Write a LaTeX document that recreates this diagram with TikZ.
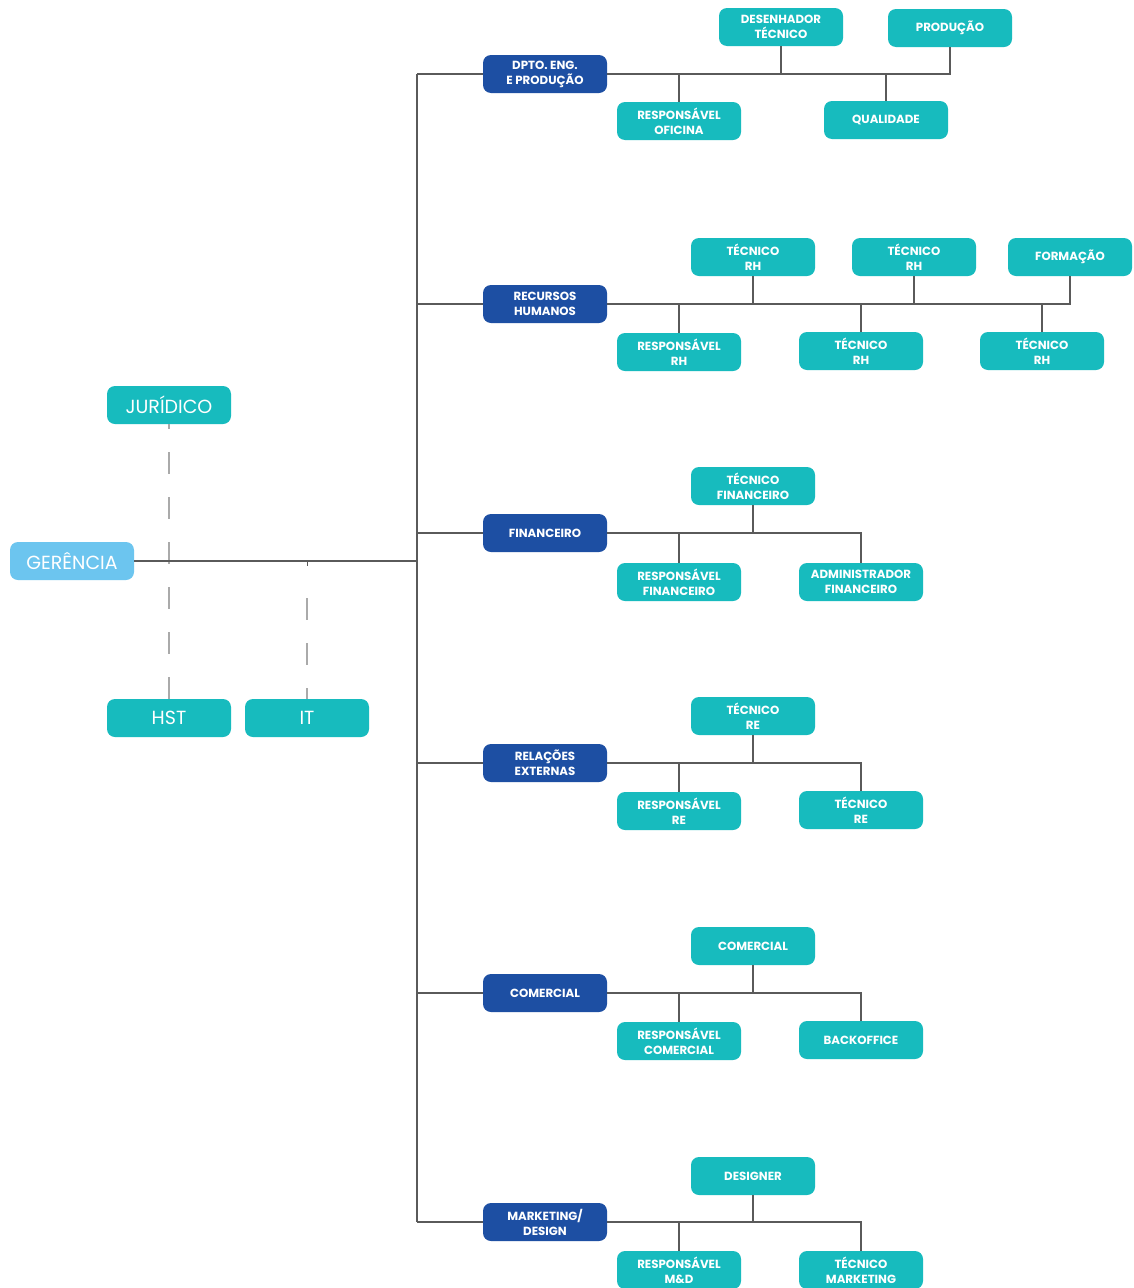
\documentclass[tikz,border=0pt]{standalone}
\usepackage{fontspec}
\setmainfont{Poppins}
\definecolor{tealbox}{HTML}{17BBBE}
\definecolor{deptblue}{HTML}{1D4FA3}
\definecolor{gerblue}{HTML}{6CC5EF}
\definecolor{linegray}{HTML}{5A5A5A}
\definecolor{dashgray}{HTML}{AAAAAA}
\tikzset{
  box/.style={rounded corners=8pt, minimum width=124pt, minimum height=38pt, text=white, align=center, inner sep=0pt},
  smalltxt/.style={font=\bfseries\fontsize{11.8}{15}\selectfont},
  child/.style={box, fill=tealbox, smalltxt},
  dept/.style={box, fill=deptblue, smalltxt},
  bigchild/.style={box, fill=tealbox, font=\fontsize{19}{22}\selectfont},
  conn/.style={draw=linegray, line width=1.1pt},
  dconn/.style={draw=dashgray, line width=1.1pt, dash pattern=on 22pt off 23pt}
}
\begin{document}
\begin{tikzpicture}[x=1pt,y=-1pt]
\useasboundingbox (0,0) rectangle (1133,1288);
\fill[white] (0,0) rectangle (1133,1288);

% left part
\node[box, fill=gerblue, font=\fontsize{19}{22}\selectfont] (ger) at (72,561) {GERÊNCIA};
\node[bigchild] (jur) at (169,405) {JURÍDICO};
\node[bigchild] (hst) at (169,718) {HST};
\node[bigchild] (it) at (307,718) {IT};
\coordinate (trunktop) at (417,74);
\coordinate (trunkbot) at (417,1222);
\coordinate (itjoin) at (307,561);
\coordinate (itdash) at (307,598);

% departments
\node[dept] (d1) at (545,74) {DPTO. ENG.\\E PRODUÇÃO};
\node[dept] (d2) at (545,304) {RECURSOS\\HUMANOS};
\node[dept] (d3) at (545,533) {FINANCEIRO};
\node[dept] (d4) at (545,763) {RELAÇÕES\\EXTERNAS};
\node[dept] (d5) at (545,993) {COMERCIAL};
\node[dept] (d6) at (545,1222) {MARKETING/\\DESIGN};

% dept 1 children
\node[child] (a1) at (781,27) {DESENHADOR\\TÉCNICO};
\node[child] (a2) at (950,28) {PRODUÇÃO};
\node[child] (a3) at (679,121) {RESPONSÁVEL\\OFICINA};
\node[child] (a4) at (886,120) {QUALIDADE};

% dept 2 children
\node[child] (b1) at (753,257) {TÉCNICO\\RH};
\node[child] (b2) at (914,257) {TÉCNICO\\RH};
\node[child] (b3) at (1070,257) {FORMAÇÃO};
\node[child] (b4) at (679,352) {RESPONSÁVEL\\RH};
\node[child] (b5) at (861,351) {TÉCNICO\\RH};
\node[child] (b6) at (1042,351) {TÉCNICO\\RH};

% dept 3 children
\node[child] (c1) at (753,486) {TÉCNICO\\FINANCEIRO};
\node[child] (c2) at (679,582) {RESPONSÁVEL\\FINANCEIRO};
\node[child] (c3) at (861,582) {ADMINISTRADOR\\FINANCEIRO};

% dept 4 children
\node[child] (e1) at (753,716) {TÉCNICO\\RE};
\node[child] (e2) at (679,811) {RESPONSÁVEL\\RE};
\node[child] (e3) at (861,810) {TÉCNICO\\RE};

% dept 5 children
\node[child] (f1) at (753,946) {COMERCIAL};
\node[child] (f2) at (679,1041) {RESPONSÁVEL\\COMERCIAL};
\node[child] (f3) at (861,1040) {BACKOFFICE};

% dept 6 children
\node[child] (g1) at (753,1176) {DESIGNER};
\node[child] (g2) at (679,1270) {RESPONSÁVEL\\M\&D};
\node[child] (g3) at (861,1270) {TÉCNICO\\MARKETING};

% dashed staff lines
\draw[dconn, dash phase=17pt] (jur.south) -- (hst.north);
\draw[conn, line width=1pt] (itjoin) -- ++(0,5);
\draw[dconn] (itdash) -- (it.north);

% main trunk
\draw[conn] (ger.east) -- (ger.east -| trunktop);
\draw[conn] (trunktop) -- (trunkbot);
\foreach \d in {d1,d2,d3,d4,d5,d6}
  \draw[conn] (\d.west -| trunktop) -- (\d.west);

% dept 1
\draw[conn] (d1.east) -- (d1.east -| a2.south) -- (a2.south);
\foreach \c in {a1,a3,a4}
  \draw[conn] (\c |- d1.east) -- (\c);
% dept 2
\draw[conn] (d2.east) -- (d2.east -| b3.south) -- (b3.south);
\foreach \c in {b1,b2,b4,b5,b6}
  \draw[conn] (\c |- d2.east) -- (\c);
% dept 3
\draw[conn] (d3.east) -- (d3.east -| c3.north) -- (c3.north);
\foreach \c in {c1,c2}
  \draw[conn] (\c |- d3.east) -- (\c);
% dept 4
\draw[conn] (d4.east) -- (d4.east -| e3.north) -- (e3.north);
\foreach \c in {e1,e2}
  \draw[conn] (\c |- d4.east) -- (\c);
% dept 5
\draw[conn] (d5.east) -- (d5.east -| f3.north) -- (f3.north);
\foreach \c in {f1,f2}
  \draw[conn] (\c |- d5.east) -- (\c);
% dept 6
\draw[conn] (d6.east) -- (d6.east -| g3.north) -- (g3.north);
\foreach \c in {g1,g2}
  \draw[conn] (\c |- d6.east) -- (\c);
\end{tikzpicture}
\end{document}
